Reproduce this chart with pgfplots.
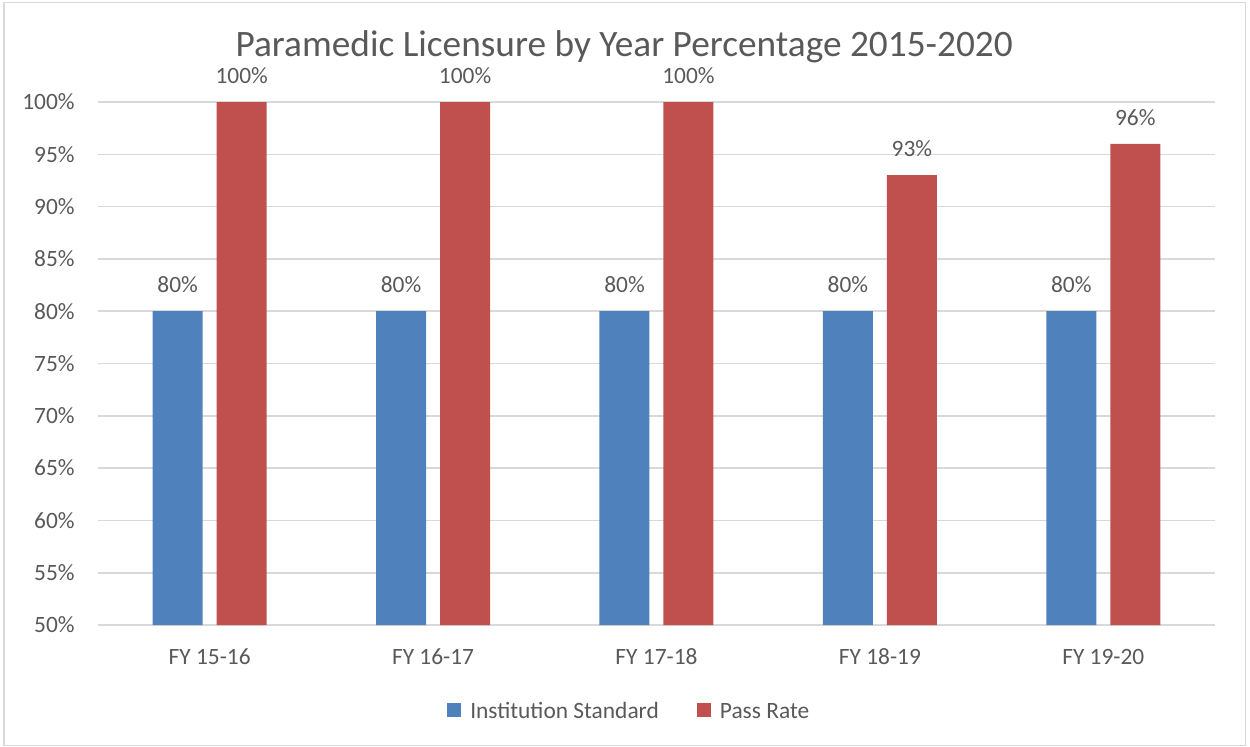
\documentclass[border=0pt]{standalone}
\usepackage{fontspec}
\setmainfont{Carlito}
\usepackage{pgfplots}
\pgfplotsset{compat=1.18}
\definecolor{bblue}{HTML}{4F81BD}
\definecolor{bred}{HTML}{C0504D}
\definecolor{tgrey}{HTML}{595959}
\definecolor{ggrey}{HTML}{D9D9D9}
\begin{document}
\begin{tikzpicture}[x=1pt,y=1pt]
\useasboundingbox (0,0) rectangle (625,373);
\draw[ggrey, line width=0.8pt] (2,0.3) rectangle (622.7,371.7);
\begin{axis}[
  at={(49pt,60.5pt)}, anchor=south west,
  width=558.5pt, height=261.5pt, scale only axis,
  ymin=50, ymax=100, ytick={50,55,...,100},
  yticklabel={\pgfmathprintnumber{\tick}\%},
  xmin=-0.5, xmax=4.5, xtick={0,1,2,3,4},
  xticklabels={FY 15-16,FY 16-17,FY 17-18,FY 18-19,FY 19-20},
  ybar=7pt, bar width=25pt,
  axis line style={draw=none},
  major tick length=0pt, tick style={draw=none},
  ymajorgrids, grid style={ggrey, line width=0.8pt},
  /pgf/number format/assume math mode=true,
  tick label style={font=\fontsize{11.7}{14}\selectfont, color=tgrey},
  yticklabel style={anchor=east, inner sep=0pt, xshift=-11.5pt},
  xticklabel style={anchor=center, inner sep=0pt, yshift=-16pt},
  title={Paramedic Licensure by Year Percentage 2015-2020},
  title style={at={(0.471,1.0635)}, anchor=base, inner sep=0pt, font=\fontsize{18.65}{22}\selectfont, color=tgrey},
  nodes near coords={\pgfmathprintnumber{\pgfplotspointmeta}\%},
  nodes near coords style={font=\fontsize{11.7}{14}\selectfont, color=tgrey, anchor=base, inner sep=0pt, yshift=9.3pt},
  legend style={at={(0.4765,-0.1665)}, anchor=center, draw=none, fill=none,
    legend columns=2, font=\fontsize{11.7}{14}\selectfont, text=tgrey,
    /tikz/every odd column/.append style={column sep=2.5pt},
    /tikz/every even column/.append style={column sep=17pt},
    legend cell align=left},
  legend image code/.code={\fill[#1] (0pt,-2.5pt) rectangle (7pt,4.5pt);},
]
\addplot[fill=bblue, draw=none] coordinates {(0,80) (1,80) (2,80) (3,80) (4,80)};
\addplot[fill=bred, draw=none] coordinates {(0,100) (1,100) (2,100) (3,93) (4,96)};
\legend{Institution Standard, Pass Rate}
\end{axis}
\end{tikzpicture}
\end{document}
